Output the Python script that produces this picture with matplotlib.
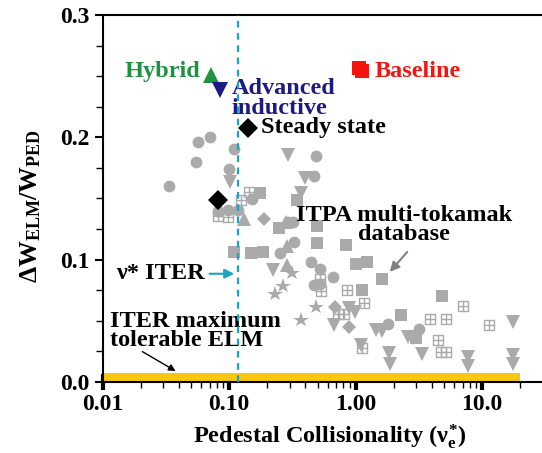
import numpy as np
import matplotlib
matplotlib.use("Agg")
import matplotlib.pyplot as plt
from matplotlib.path import Path

plt.rcParams['font.family'] = ['Liberation Serif', 'DejaVu Serif']
plt.rcParams['font.weight'] = 'bold'
plt.rcParams['mathtext.fontset'] = 'custom'
plt.rcParams['mathtext.rm'] = 'Liberation Serif:bold'
plt.rcParams['mathtext.it'] = 'Liberation Serif:bold'
plt.rcParams['mathtext.bf'] = 'Liberation Serif:bold'

# ---------------- data ----------------
circ_x = [0.0564, 0.0705, 0.0545, 0.0334, 0.110, 0.1005, 0.484, 0.472, 0.1507, 0.082, 0.097, 0.118,
          0.290, 0.321, 0.327, 0.254, 0.440, 0.519, 0.656, 0.468, 0.522, 1.81, 3.18]
circ_y = [0.1958, 0.2005, 0.180, 0.1604, 0.1903, 0.174, 0.185, 0.1688, 0.1498, 0.1398, 0.1404, 0.1405,
          0.131, 0.1304, 0.1147, 0.1052, 0.0981, 0.0922, 0.0859, 0.0796, 0.0805, 0.0477, 0.0431]

tdn_x = [0.102, 0.294, 0.399, 0.367, 0.221, 0.678, 0.881, 0.986, 1.435, 1.614, 2.58, 2.85, 1.10,
         1.83, 1.86, 3.37, 7.76, 7.76, 17.5, 17.4, 17.4]
tdn_y = [0.1635, 0.1856, 0.1666, 0.1547, 0.0916, 0.0462, 0.0605, 0.0575, 0.0423, 0.0417, 0.0368, 0.0357,
         0.0303, 0.0235, 0.0150, 0.0225, 0.0204, 0.0131, 0.0493, 0.0221, 0.0150]

tup_x = [0.132, 0.281, 0.284, 0.286]
tup_y = [0.1329, 0.1308, 0.1112, 0.0953]

dia_x = [0.1895, 0.685, 0.885]
dia_y = [0.1333, 0.0616, 0.045]

sq_x = [0.175, 0.344, 0.249, 0.497, 0.109, 0.150, 0.186, 0.493, 0.844, 1.005, 1.236, 1.62, 1.127,
        2.28, 4.84, 2.98]
sq_y = [0.1543, 0.1488, 0.1259, 0.1276, 0.1065, 0.1057, 0.1063, 0.1138, 0.1116, 0.0962, 0.0977,
        0.0840, 0.0752, 0.0548, 0.0703, 0.0357]

grid_x = [0.1434, 0.125, 0.0823, 0.0978, 0.522, 0.527, 0.861, 1.17, 0.729, 0.808, 1.13, 3.87, 5.13,
          7.03, 11.4, 4.45, 4.72, 5.20]
grid_y = [0.1554, 0.1488, 0.1361, 0.1349, 0.0842, 0.0742, 0.0752, 0.0646, 0.0552, 0.0552, 0.0276,
          0.0518, 0.0519, 0.0619, 0.0462, 0.0343, 0.0248, 0.0248]

star_x = [0.312, 0.266, 0.232, 0.484, 0.367]
star_y = [0.0895, 0.0785, 0.0722, 0.0609, 0.0503]

hybrid = (0.0715, 0.2506)
adv_ind = (0.0845, 0.239)
baseline_x = [1.07, 1.13]
baseline_y = [0.257, 0.254]
steady_x = [0.1416, 0.0811]
steady_y = [0.2074, 0.1488]

nu_iter = 0.118
elm_tol = 0.0076
elm_xrange = (0.01, 20)

xticks = [0.01, 0.1, 1, 10]
xticklabels = ['0.01', '0.10', '1.00', '10.0']
yticks = [0.0, 0.1, 0.2, 0.3]
yticklabels = ['0.0', '0.1', '0.2', '0.3']

# ---------------- figure ----------------
W, H = 542, 453
fig = plt.figure(figsize=(W / 100, H / 100), dpi=100)
L, R, T, B = 102.7, 560, 15, 382
ax = fig.add_axes([L / W, (H - B) / H, (R - L) / W, (B - T) / H])
ax.set_xscale('log')
ax.set_xlim(0.01, 10 ** ((R - L) / 126.5 - 2))
ax.set_ylim(0, 0.3)

grey = '#aaaaaa'
ms = 8.5
ax.plot(circ_x, circ_y, 'o', color=grey, ms=ms, mew=0, zorder=3)
ax.plot(tdn_x, tdn_y, 'v', color=grey, ms=ms + 1.5, mew=0, zorder=3)
ax.plot(tup_x, tup_y, '^', color=grey, ms=ms + 1.5, mew=0, zorder=3)
ax.plot(dia_x, dia_y, 'D', color=grey, ms=ms - 1, mew=0, zorder=3)
ax.plot(sq_x, sq_y, 's', color=grey, ms=ms - 0.5, mew=0, zorder=3)
ax.plot(star_x, star_y, '*', color=grey, ms=ms + 3, mew=0, zorder=3)

gpath = Path([(-1, -1), (1, -1), (1, 1), (-1, 1), (-1, -1), (0, -1), (0, 1), (-1, 0), (1, 0)],
             [Path.MOVETO, Path.LINETO, Path.LINETO, Path.LINETO, Path.CLOSEPOLY,
              Path.MOVETO, Path.LINETO, Path.MOVETO, Path.LINETO])
ax.plot(grid_x, grid_y, linestyle='none', marker=gpath, mfc='none', mec=grey, ms=ms - 1, mew=1.0,
        zorder=3)

# ELM band
ax.fill_between(elm_xrange, 0, elm_tol, color='#f9c70f', lw=0, zorder=2)

# nu* ITER line
ax.axvline(nu_iter, color='#1ea3c6', ls=(0, (3, 2.5)), lw=1.6, zorder=4)

# scenario markers
ax.plot(*hybrid, '^', color='#1f9341', ms=12, mew=0, zorder=5)
ax.plot(*adv_ind, 'v', color='#1d1a86', ms=12, mew=0, zorder=5)
ax.plot(baseline_x, baseline_y, 's', color='#f5140f', ms=10, mew=0, zorder=5)
ax.plot(steady_x, steady_y, 'D', color='black', ms=10, mew=0, zorder=5)

fs = 17.5
ax.text(0.0588, 0.2535, 'Hybrid', color='#1f9341', fontsize=fs, fontweight='bold', ha='right',
        va='center')
ax.text(0.105, 0.232, 'Advanced\ninductive', color='#1d1a86', fontsize=fs, fontweight='bold',
        ha='left', va='center', linespacing=0.92)
ax.text(1.42, 0.2535, 'Baseline', color='#f5140f', fontsize=fs, fontweight='bold', ha='left',
        va='center')
ax.text(0.178, 0.2077, 'Steady state', color='black', fontsize=fs, fontweight='bold', ha='left',
        va='center')
ax.text(2.41, 0.1285, 'ITPA multi-tokamak\ndatabase', color='black', fontsize=fs, fontweight='bold',
        ha='center', va='center', linespacing=0.85)
ax.annotate('', xy=(1.80, 0.0883), xytext=(2.64, 0.108),
            arrowprops=dict(arrowstyle='-|>', color='#808080', lw=1.5, mutation_scale=14))
ax.text(0.0644, 0.0885, 'ν* ITER', color='black', fontsize=fs, fontweight='bold', ha='right',
        va='center')
ax.annotate('', xy=(0.1153, 0.0885), xytext=(0.0665, 0.0885),
            arrowprops=dict(arrowstyle='-|>', color='#1ea3c6', lw=1.5, mutation_scale=14))
ax.text(0.01142, 0.0417, 'ITER maximum\ntolerable ELM', color='black', fontsize=fs,
        fontweight='bold', ha='left', va='center', linespacing=0.92)
ax.annotate('', xy=(0.0394, 0.0078), xytext=(0.0197, 0.026),
            arrowprops=dict(arrowstyle='-|>', color='black', lw=1.0, mutation_scale=10))

# axes styling
for s in ['left', 'bottom', 'top', 'right']:
    ax.spines[s].set_linewidth(1.5)
ax.set_xticks(xticks)
ax.set_xticklabels(xticklabels)
ax.set_yticks(yticks)
ax.set_yticklabels(yticklabels)
ax.set_yticks(np.arange(0, 0.301, 0.025), minor=True)
ax.tick_params(axis='x', which='major', direction='inout', length=12, width=3, labelsize=17, pad=3)
ax.tick_params(axis='x', which='minor', direction='out', length=4, width=1)
ax.tick_params(axis='y', which='major', direction='out', length=6, width=1.5, labelsize=17)
ax.tick_params(axis='y', which='minor', direction='out', length=5, width=1)
for lab in ax.get_xticklabels() + ax.get_yticklabels():
    lab.set_fontweight('bold')

fig.text(330 / W, 1 - 437 / H, r'Pedestal Collisionality ($\nu_{\mathrm{e}}^{*}$)', fontsize=17.5,
         fontweight='bold', ha='center', va='center')
fig.text(31 / W, 1 - 206 / H, r'$\Delta\mathrm{W}_{\mathrm{ELM}}/\mathrm{W}_{\mathrm{PED}}$',
         fontsize=18.5, fontweight='bold', ha='center', va='center', rotation=90)

fig.savefig('out.png', dpi=100)
